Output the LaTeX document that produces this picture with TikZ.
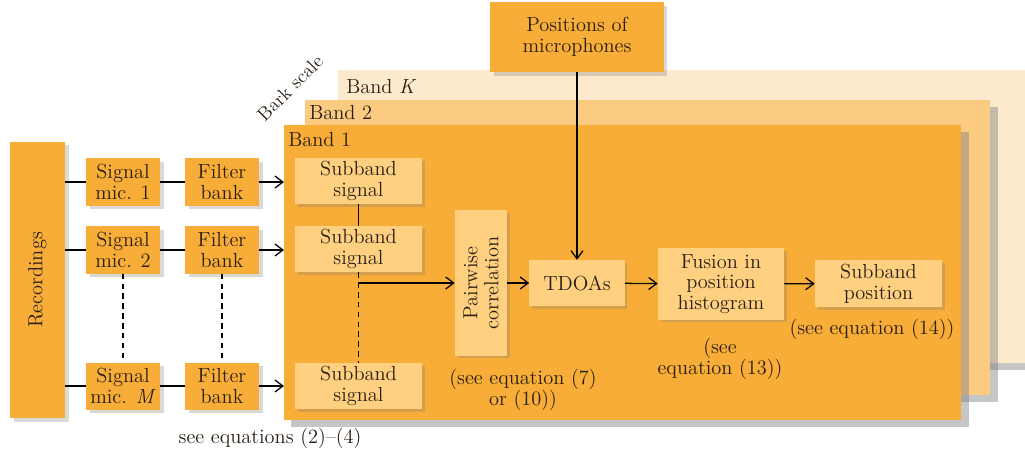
\documentclass[tikz,border=0pt]{standalone}
\usepackage{fontspec}
\usetikzlibrary{arrows.meta, shadows}

\definecolor{bandone}{RGB}{247,173,55}
\definecolor{bandtwo}{RGB}{250,203,128}
\definecolor{bandk}{RGB}{253,234,204}
\definecolor{boxlight}{RGB}{254,208,128}
\definecolor{inktext}{RGB}{40,30,20}

\begin{document}
\begin{tikzpicture}[
  x=0.025cm, y=-0.025cm,
  every node/.style={align=center, text=inktext, inner sep=0pt, font=\fontsize{14.5}{14.8}\selectfont},
  % Outer blocks (recordings, microphones, filter banks)
  block/.style={rectangle, fill=bandone, drop shadow={shadow xshift=2.5pt, shadow yshift=-2.5pt, opacity=0.3}},
  % Inner blocks on the band
  subblock/.style={rectangle, fill=boxlight, drop shadow={shadow xshift=2pt, shadow yshift=-2pt, opacity=0.3}},
  % Frequency bands
  band/.style={rectangle, anchor=north west, drop shadow={shadow xshift=5pt, shadow yshift=-5pt, opacity=0.45}},
  % Connectors
  link/.style={line width=1.2pt, draw=black},
  flow/.style={line width=0.9pt, draw=black, -{Straight Barb[length=2mm, width=3mm]}},
  dots/.style={line width=0.9pt, draw=black, dash pattern=on 4pt off 3pt},
  % Labels
  bandlabel/.style={anchor=west},
  note/.style={}
]
\useasboundingbox (0,0) rectangle (1025,454);

% === BANDS ===
\node[band, fill=bandk, minimum width=17.3cm, minimum height=7.325cm] (bandK) at (338,70) {};
\node[band, fill=bandtwo, minimum width=17.125cm, minimum height=7.375cm] (band2) at (305,100) {};
\node[band, fill=bandone, minimum width=16.925cm, minimum height=7.375cm] (band1) at (284,125) {};

% Band labels
\node[bandlabel] at (346,87) {Band \textit{K}};
\node[bandlabel] at (309,113) {Band 2};
\node[bandlabel] at (288,140) {Band 1};
\node[rotate=45, font=\fontsize{13.5}{14}\selectfont] (bark) at (290,88) {Bark scale};

% === INPUT SIDE ===
\node[block, rotate=90, minimum width=6.9cm, minimum height=1.375cm] (rec) at (37.5,280) {Recordings};

\node[block, minimum width=1.85cm, minimum height=1.175cm] (sig1) at (123,182) {Signal\\mic. 1};
\node[block, minimum width=1.85cm, minimum height=1.175cm] (sig2) at (123,250) {Signal\\mic. 2};
\node[block, minimum width=1.85cm, minimum height=1.175cm] (sigM) at (123,386) {Signal\\mic. \textit{M}};

\node[block, minimum width=1.85cm, minimum height=1.175cm] (fb1) at (222,182) {Filter\\bank};
\node[block, minimum width=1.85cm, minimum height=1.175cm] (fb2) at (222,250) {Filter\\bank};
\node[block, minimum width=1.85cm, minimum height=1.175cm] (fbM) at (222,386) {Filter\\bank};

\node[note] (eqfilter) at (270,438) {see equations (2)--(4)};

% Edges: Recordings -> Signal -> Filter -> Band
\draw[link] (rec.south |- sig1) -- (sig1);
\draw[link] (rec.south |- sig2) -- (sig2);
\draw[link, line width=0.9pt] (rec.south |- sigM) -- (sigM);
\draw[link] (sig1) -- (fb1);
\draw[link] (sig2) -- (fb2);
\draw[link, line width=0.9pt] (sigM) -- (fbM);
\draw[flow] (fb1) -- (fb1 -| band1.west);
\draw[flow] (fb2) -- (fb2 -| band1.west);
\draw[flow] (fbM) -- (fbM -| band1.west);
\draw[dots] (sig2) -- (sigM);
\draw[dots] (fb2) -- (fbM);

% === BAND 1 CONTENT ===
\node[subblock, minimum width=3.175cm, minimum height=1.15cm] (sub1) at (358.5,181) {Subband\\signal};
\node[subblock, minimum width=3.175cm, minimum height=1.15cm] (sub2) at (358.5,249) {Subband\\signal};
\node[subblock, minimum width=3.175cm, minimum height=1.15cm] (sub3) at (358.5,386) {Subband\\signal};

\node[subblock, rotate=90, minimum width=3.625cm, minimum height=1.3cm] (pair) at (481,283) {Pairwise\\correlation};
\node[subblock, minimum width=2.375cm, minimum height=1.15cm] (tdoa) at (577,283) {TDOAs};
\node[subblock, minimum width=3.15cm, minimum height=1.775cm] (fusion) at (721,284) {Fusion in\\position\\histogram};
\node[subblock, minimum width=3.175cm, minimum height=1.175cm] (subpos) at (878.5,283.5) {Subband\\position};

\node[note] (eqpair) at (523,390) {(see equation (7)\\or (10))};
\node[note] (eqfusion) at (720,359) {(see\\equation (13))};
\node[note] (eqpos) at (872,329) {(see equation (14))};

% === MICROPHONE POSITIONS ===
\node[block, minimum width=4.325cm, minimum height=1.75cm] (pos) at (577,37) {Positions of\\microphones};

% Edges inside the band
\draw[line width=0.7pt] (sub1) -- (sub2);
\draw[dots] (sub2) -- (sub3);
\coordinate (split) at (sub2.south |- pair);
\draw[flow] (split) -- (pair);
\draw[flow] (pair) -- (tdoa);
\draw[flow] (pos) -- (tdoa);
\draw[flow] (tdoa) -- (fusion);
\draw[flow] (fusion) -- (subpos);

\end{tikzpicture}
\end{document}
